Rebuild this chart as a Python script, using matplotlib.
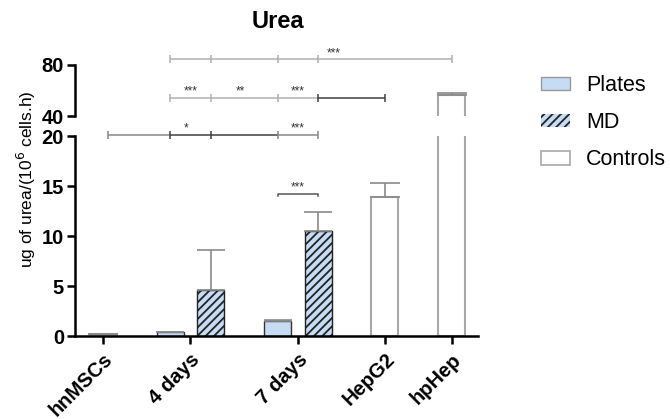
import matplotlib
matplotlib.use("Agg")
import matplotlib.pyplot as plt
from matplotlib.patches import Patch

plt.rcParams['font.family'] = ['Liberation Sans', 'DejaVu Sans']
plt.rcParams['hatch.linewidth'] = 1.3

# ---- data ----
categories = ['hnMSCs', '4 days', '7 days', 'HepG2', 'hpHep']
plates_vals = [0.37, 1.5]          # 4 days, 7 days
plates_err = [0.08, 0.06]
md_vals = [4.57, 10.47]            # 4 days, 7 days
md_err = [4.0, 1.9]
control_names = ['hnMSCs', 'HepG2', 'hpHep']
control_vals = [0.2, 13.87, 56.7]
control_err = [0.05, 1.4, 1.6]
legend_labels = ['Plates', 'MD', 'Controls']

# ---- layout ----
gap = 1.65
x_hn = 0.0
x_4p, x_4m = gap, gap + 1
x_7p, x_7m = 2 * gap + 1, 2 * gap + 2
x_hg = 3 * gap + 2
x_hp = 4 * gap + 2
plate_x = [x_4p, x_7p]
md_x = [x_4m, x_7m]
control_x = [x_hn, x_hg, x_hp]
tick_x = [x_hn, (x_4p + x_4m) / 2, (x_7p + x_7m) / 2, x_hg, x_hp]
pos = [x_hn, x_4p, x_4m, x_7p, x_7m, x_hg, x_hp]

W = 0.667
blue = '#c6dcf4'
gray_edge = '#a8a8a8'
err_col = '#8a8a8a'

fig = plt.figure(figsize=(6.7, 4.19), dpi=100)
ax_b = fig.add_axes([75 / 670, (419 - 336) / 419, 403 / 670, 200 / 419])
ax_t = fig.add_axes([75 / 670, (419 - 116) / 419, 403 / 670, 51 / 419], sharex=ax_b)

for ax in (ax_b, ax_t):
    ax.bar(plate_x, plates_vals, W, color=blue, edgecolor='#333333', linewidth=1.0,
           yerr=[[0] * len(plates_vals), plates_err], capsize=10,
           error_kw=dict(ecolor=err_col, elinewidth=1.2, capthick=1.2))
    ax.bar(md_x, md_vals, W, color=blue, edgecolor='#222222', linewidth=1.0, hatch='////',
           yerr=[[0] * len(md_vals), md_err], capsize=10,
           error_kw=dict(ecolor=err_col, elinewidth=1.2, capthick=1.2))
    ax.bar(control_x, control_vals, W, color='white', edgecolor=gray_edge, linewidth=1.5,
           yerr=[[0] * len(control_vals), control_err], capsize=11,
           error_kw=dict(ecolor=err_col, elinewidth=1.2, capthick=1.2))

ax_b.set_xlim(-0.70, 9.25)
ax_b.set_ylim(0, 20)
ax_t.set_ylim(40, 80)

ax_b.set_yticks([0, 5, 10, 15, 20])
ax_t.set_yticks([40, 80])
ax_b.set_xticks(tick_x)
ax_b.set_xticklabels(categories, rotation=45, ha='right', rotation_mode='anchor',
                     fontsize=14.5, fontweight='bold')

for ax in (ax_b, ax_t):
    for s in ('top', 'right'):
        ax.spines[s].set_visible(False)
    ax.spines['left'].set_linewidth(1.8)
    ax.tick_params(axis='y', direction='out', length=6, width=1.8, labelsize=14.5, pad=2)
    for lab in ax.get_yticklabels():
        lab.set_fontweight('bold')
ax_b.spines['bottom'].set_linewidth(1.8)
ax_b.tick_params(axis='x', direction='out', length=6, width=1.8, pad=4)
ax_t.spines['bottom'].set_visible(False)
ax_t.tick_params(axis='x', bottom=False, labelbottom=False)
ax_t.patch.set_alpha(0)
ax_b.patch.set_alpha(0)

# ---- significance lines ----
LG, DK = '#b0b0b0', '#404040'

def sig_row(ax, y, idxs, seg_cols, stars, start=None):
    xs = [pos[i] for i in idxs]
    if start is not None:
        xs[0] = start
    for k in range(len(xs) - 1):
        ax.plot([xs[k], xs[k + 1]], [y, y], color=seg_cols[k], lw=1.1,
                clip_on=False, solid_capstyle='butt')
    for k, xv in enumerate(xs):
        c = seg_cols[min(k, len(seg_cols) - 1)]
        ax.plot([xv], [y], marker='|', markersize=6, color=c, mew=1.1, clip_on=False)
    for (xv, txt) in stars:
        ax.text(xv, y, txt, ha='center', va='bottom', fontsize=8.5, color='#333333',
                clip_on=False)

sig_row(ax_t, 84.7, [1, 2, 3, 4, 6], [LG, LG, LG, LG],
        [(pos[4] + 0.38, '***')])
sig_row(ax_t, 54.4, [1, 2, 3, 4, 5], [LG, LG, LG, DK],
        [((pos[1] + pos[2]) / 2, '***'), ((pos[2] + pos[3]) / 2 - 0.1, '**'),
         ((pos[3] + pos[4]) / 2, '***')])
sig_row(ax_b, 20.15, [0, 1, 2, 3, 4], ['#888888', DK, DK, '#888888'],
        [((pos[1] + pos[2]) / 2 - 0.1, '*'), ((pos[3] + pos[4]) / 2, '***')], start=0.12)

# inner bracket 7 days
yb = 14.25
ax_b.plot([pos[3], pos[3], pos[4], pos[4]], [yb - 0.25, yb, yb, yb - 0.25],
          color='#555555', lw=1.1)
ax_b.text((pos[3] + pos[4]) / 2, yb, '***', ha='center', va='bottom', fontsize=8.5,
          color='#333333')

# ---- labels ----
fig.text(278 / 670, 1 - 22 / 419, 'Urea', ha='center', va='center', fontsize=17,
         fontweight='bold')
fig.text(26 / 670, 1 - 179 / 419, 'ug of urea/(10$^{6}$ cells.h)', rotation=90,
         ha='center', va='center', fontsize=12.5)

handles = [Patch(facecolor=blue, edgecolor='#999999', linewidth=1.0),
           Patch(facecolor=blue, edgecolor='#222222', linewidth=0.0, hatch='////'),
           Patch(facecolor='white', edgecolor=gray_edge, linewidth=1.2)]
fig.legend(handles, legend_labels, loc='upper left',
           bbox_to_anchor=(541 / 670, 1 - 75 / 419), frameon=False, fontsize=15.5,
           handlelength=1.35, handleheight=0.6, handletextpad=0.75, labelspacing=0.75,
           borderpad=0, borderaxespad=0)

fig.savefig('out.png', dpi=100)
